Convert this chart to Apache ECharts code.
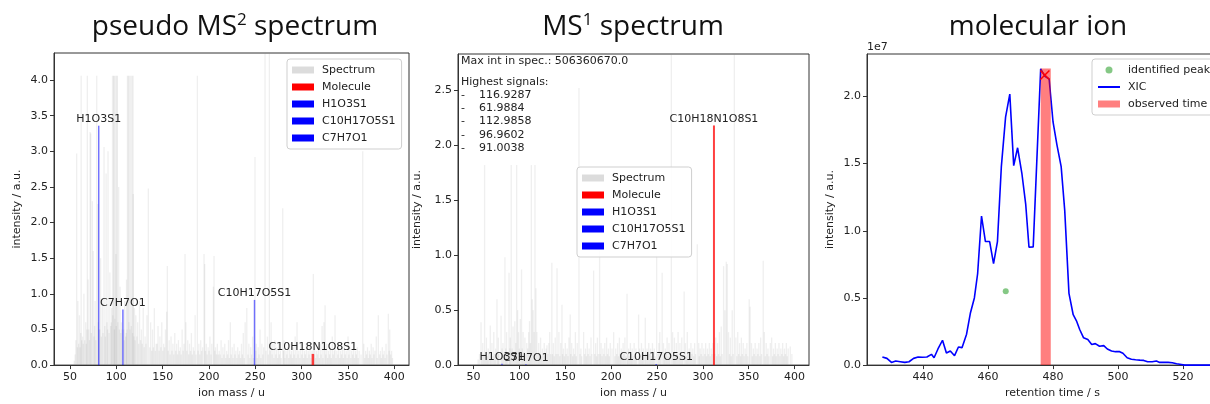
<!DOCTYPE html>
<html>
<head>
<meta charset="utf-8">
<script src="https://cdn.jsdelivr.net/npm/echarts@6/dist/echarts.min.js"></script>
<style>
html,body{margin:0;padding:0;background:#fff;overflow:hidden}
#wrap{width:1210px;height:404px;overflow:hidden;position:relative}
#c{width:1250px;height:404px}
</style>
</head>
<body>
<div id="wrap"><div id="c"></div></div>
<script>
// ---------------- data ----------------
const panelTitles = [['pseudo MS', '2', ' spectrum'], ['MS', '1', ' spectrum'], ['molecular ion', '', '']];
const massTicks = [50, 100, 150, 200, 250, 300, 350, 400];
const ms2IntTicks = [0, 0.5, 1.0, 1.5, 2.0, 2.5, 3.0, 3.5, 4.0];
const ms1IntTicks = [0, 0.5, 1.0, 1.5, 2.0, 2.5];
const rtTicks = [440, 460, 480, 500, 520];
const xicTicks = [0, 0.5, 1.0, 1.5, 2.0]; // in units of 1e7

// pseudo MS2 spectrum: [m/z, intensity]
const ms2Peaks = [[54.5,0.06],[55.5,0.15],[56.3,0.35],[57.2,2.97],[58.0,0.25],[58.5,0.9],[59.3,0.3],[60.2,0.7],[60.8,0.25],[61.5,0.45],[61.99,4.06],[62.6,0.35],[63.5,0.4],[64.2,0.3],[65.0,1.0],[65.8,0.35],[66.9,0.6],[67.5,0.3],[68.2,0.5],[68.7,4.06],[69.5,1.2],[70.2,0.5],[71.0,0.35],[71.6,3.27],[72.3,3.25],[73.0,0.45],[74.1,2.3],[75.0,1.6],[75.8,0.4],[76.5,0.55],[77.0,0.9],[77.8,0.35],[78.8,4.06],[79.96,2.26],[80.5,0.6],[81.5,0.5],[82.0,0.5],[83.0,1.5],[83.8,0.4],[84.9,0.9],[85.6,0.45],[86.7,3.06],[87.5,0.55],[88.2,0.4],[88.9,2.69],[89.8,0.6],[90.5,0.5],[91.0,3.0],[92.1,0.45],[93.0,1.3],[93.9,0.55],[94.6,0.6],[95.0,0.8],[95.9,4.06],[96.2,0.7],[96.96,4.06],[97.5,4.06],[97.9,0.5],[98.3,0.65],[98.9,4.06],[99.5,1.56],[99.9,0.55],[100.4,4.06],[100.9,4.06],[101.6,0.6],[102.5,2.5],[103.2,0.5],[104.0,1.1],[104.8,0.45],[105.5,0.6],[106.1,0.5],[107.9,0.5],[108.5,0.35],[109.0,0.9],[110.0,0.4],[110.6,0.45],[111.0,1.2],[111.6,0.5],[112.0,4.06],[112.99,4.06],[113.5,0.6],[114.0,4.06],[114.7,0.5],[115.5,4.06],[116.1,0.55],[116.93,4.06],[117.5,0.45],[118.0,4.06],[118.3,2.4],[119.0,0.4],[119.5,0.8],[120.2,0.35],[121.0,0.7],[122.1,0.4],[123.0,0.6],[124.0,0.3],[125.0,0.9],[126.1,0.35],[127.0,0.5],[128.0,0.3],[129.0,0.8],[130.1,0.25],[131.0,0.4],[132.0,0.3],[133.0,0.7],[134.5,2.48],[135.9,0.25],[137.0,0.6],[138.1,0.2],[139.0,0.5],[140.0,0.25],[141.0,0.8],[142.1,0.2],[143.0,0.3],[144.0,0.3],[145.0,0.55],[146.1,0.2],[147.0,0.4],[148.0,0.25],[149.0,0.6],[150.1,0.2],[151.0,0.3],[152.0,0.25],[153.0,0.5],[154.3,0.75],[155.0,1.39],[156.0,0.2],[157.0,0.35],[158.0,0.15],[159.0,0.4],[160.0,0.2],[161.0,0.3],[162.0,0.15],[163.0,0.45],[164.0,0.2],[165.0,0.3],[166.0,0.15],[167.0,0.35],[168.0,0.2],[169.0,0.25],[170.0,0.15],[171.0,0.5],[172.0,0.2],[173.0,0.3],[174.1,1.56],[175.0,0.6],[176.0,0.2],[177.0,0.35],[178.0,0.15],[179.0,0.3],[180.0,0.2],[181.0,0.45],[182.0,0.15],[183.0,0.25],[184.0,0.2],[185.0,0.7],[186.0,0.15],[187.4,4.06],[188.2,0.2],[189.0,0.3],[190.0,0.15],[191.0,0.35],[192.0,0.2],[193.0,0.25],[194.6,1.56],[195.3,1.42],[196.2,0.2],[197.0,0.3],[198.0,0.15],[199.0,0.25],[200.0,0.2],[201.0,0.4],[202.0,0.15],[203.0,0.3],[204.7,1.1],[205.4,1.53],[206.2,0.2],[207.0,0.25],[208.0,0.15],[209.0,0.3],[210.0,0.15],[211.0,0.2],[212.0,0.15],[213.0,0.35],[214.0,0.1],[215.0,0.25],[216.0,0.15],[217.0,0.3],[218.0,0.1],[219.0,0.2],[220.0,0.15],[221.0,0.35],[222.0,0.1],[223.0,0.6],[224.0,0.15],[225.0,0.25],[226.0,0.1],[227.0,0.3],[228.0,0.15],[229.0,0.2],[230.0,0.1],[231.0,0.25],[232.0,0.15],[233.0,0.2],[234.0,0.1],[235.0,0.3],[236.0,0.15],[237.0,0.45],[238.0,0.1],[239.0,0.6],[240.7,0.8],[242.0,0.15],[243.0,0.3],[244.0,0.1],[245.0,0.25],[246.0,0.15],[247.0,0.4],[248.0,0.1],[249.6,2.92],[250.5,0.2],[251.0,0.3],[252.0,0.1],[253.0,0.25],[254.0,0.15],[255.0,0.5],[256.0,0.1],[257.0,0.3],[258.0,0.15],[259.0,0.25],[260.4,5.0],[261.5,0.2],[263.0,0.4],[264.0,0.15],[265.1,5.0],[266.0,0.2],[267.0,0.6],[268.0,0.15],[269.0,0.3],[270.0,0.1],[271.0,0.35],[272.0,0.15],[273.0,0.25],[274.0,0.1],[275.0,0.3],[276.0,0.15],[277.0,0.2],[278.0,0.1],[279.5,2.2],[280.5,0.2],[281.0,0.35],[282.0,0.1],[283.0,0.2],[284.0,0.15],[285.0,0.25],[286.0,0.1],[287.0,0.3],[288.0,0.15],[289.0,0.2],[290.0,0.1],[291.0,0.25],[292.0,0.15],[293.0,0.4],[294.0,0.1],[295.0,0.6],[296.0,0.15],[297.0,0.2],[298.0,0.1],[299.0,0.3],[300.0,0.15],[301.0,0.25],[302.0,0.1],[303.0,0.2],[304.0,0.15],[305.0,0.3],[306.0,0.1],[307.0,0.2],[308.0,0.15],[309.0,0.25],[310.0,0.1],[311.0,0.2],[312.6,1.28],[313.5,0.15],[314.0,0.3],[315.0,0.1],[316.0,0.2],[317.0,0.15],[318.0,0.25],[319.0,0.1],[320.0,0.3],[321.0,0.15],[322.0,0.55],[323.0,0.1],[324.0,0.6],[325.2,0.84],[326.0,0.15],[327.0,0.3],[328.0,0.1],[329.0,0.2],[330.0,0.15],[331.0,0.25],[332.0,0.1],[333.0,0.4],[334.0,0.15],[335.0,0.2],[336.0,0.7],[337.0,0.1],[338.0,0.2],[339.0,0.15],[340.0,0.3],[341.0,0.1],[342.0,0.2],[343.0,0.15],[344.0,0.25],[345.0,0.1],[346.0,0.3],[347.0,0.15],[348.0,0.2],[349.0,0.1],[350.0,0.4],[351.0,0.15],[352.0,0.25],[353.0,0.1],[354.0,0.2],[355.0,0.15],[356.0,0.3],[357.0,0.1],[358.0,0.2],[359.0,0.15],[360.0,0.25],[361.0,0.1],[362.0,0.2],[364.0,0.15],[365.9,3.0],[367.0,0.3],[368.0,0.1],[369.0,0.2],[370.0,0.15],[371.0,0.25],[372.0,0.1],[373.0,0.2],[374.0,0.15],[375.0,0.3],[376.0,0.1],[377.0,0.25],[378.0,0.15],[379.0,0.2],[380.5,0.4],[381.5,0.1],[382.7,0.7],[384.0,0.15],[385.0,0.2],[386.0,0.1],[387.0,0.25],[388.0,0.15],[389.0,0.2],[390.0,0.1],[391.0,0.3],[392.0,0.15],[393.5,0.72],[394.5,0.2],[395.0,0.5],[396.0,0.15],[397.0,0.2],[398.0,0.1]];

// MS1 spectrum: [m/z, intensity]
const ms1Peaks = [[55.0,0.05],[56.5,0.1],[58.1,0.39],[59.0,0.08],[60.0,0.2],[61.0,0.1],[61.99,1.82],[63.0,0.12],[64.0,0.25],[65.0,0.08],[66.0,0.15],[67.0,0.1],[68.2,0.36],[69.0,0.1],[70.0,0.2],[71.0,0.08],[72.0,0.3],[73.0,0.1],[74.0,0.15],[75.5,0.6],[76.5,0.1],[77.0,0.25],[78.0,0.12],[79.96,0.45],[81.0,0.15],[82.0,0.2],[83.0,0.1],[84.2,0.98],[85.0,0.15],[86.0,0.3],[87.0,0.12],[88.6,0.84],[89.5,0.15],[90.0,0.25],[91.0,1.82],[92.0,0.15],[93.0,0.35],[94.0,0.12],[95.0,0.4],[96.0,0.2],[96.96,1.82],[98.0,0.5],[99.0,0.3],[100.0,0.15],[100.9,0.42],[102.3,0.87],[103.0,0.15],[104.0,0.3],[105.0,0.12],[106.0,0.25],[107.0,0.1],[108.0,0.2],[109.0,0.15],[110.0,0.3],[111.0,0.4],[112.0,0.2],[112.99,1.82],[114.0,0.6],[115.0,0.5],[116.0,0.3],[116.93,1.82],[118.0,0.7],[119.0,0.3],[120.0,0.1],[121.0,0.2],[122.0,0.1],[123.0,0.25],[124.0,0.08],[125.0,0.15],[126.0,0.1],[127.0,0.2],[128.0,0.08],[129.0,0.15],[130.0,0.18],[131.0,0.1],[132.0,0.2],[133.0,0.3],[134.0,0.1],[135.3,0.93],[136.0,0.1],[137.0,0.2],[138.0,0.08],[139.0,0.25],[140.0,0.1],[141.0,0.88],[142.0,0.1],[143.0,0.3],[144.0,0.08],[145.0,0.2],[146.4,0.55],[147.0,0.1],[148.0,0.15],[149.0,0.08],[150.0,0.2],[151.0,0.1],[152.0,0.15],[153.0,0.08],[154.0,0.25],[155.4,0.46],[156.0,0.1],[157.0,0.2],[158.0,0.08],[159.0,0.15],[160.0,0.1],[161.0,0.3],[162.0,0.08],[163.0,0.2],[164.9,2.52],[166.0,0.1],[167.0,0.15],[168.0,0.08],[170.0,0.3],[171.0,0.1],[172.0,0.15],[173.0,0.08],[174.0,0.2],[175.0,0.1],[176.0,0.15],[177.0,0.08],[178.0,0.25],[179.0,0.1],[180.9,0.86],[182.0,0.1],[183.0,0.2],[184.0,0.08],[185.0,0.25],[186.0,0.1],[187.4,1.04],[188.0,0.1],[189.0,0.2],[190.0,0.08],[191.0,0.15],[192.0,0.1],[193.0,0.2],[194.0,0.08],[195.0,0.25],[196.0,0.1],[197.0,0.15],[198.0,0.08],[199.0,0.2],[200.9,0.15],[202.7,0.3],[204.0,0.08],[205.0,0.15],[206.0,0.1],[207.0,0.2],[208.0,0.08],[209.0,0.25],[210.0,0.1],[211.0,0.15],[212.0,0.08],[213.0,0.2],[214.0,0.1],[215.0,0.25],[216.0,0.08],[217.3,0.65],[218.0,0.1],[219.0,0.15],[220.0,0.08],[221.0,0.2],[222.0,0.1],[223.0,0.15],[224.0,0.08],[225.0,0.2],[226.0,0.1],[227.0,0.15],[228.0,0.08],[229.9,0.46],[231.0,0.15],[232.0,0.08],[233.0,0.2],[234.0,0.1],[235.0,0.15],[236.0,0.08],[237.2,0.43],[238.0,0.1],[239.0,0.15],[240.0,0.08],[241.0,0.2],[242.0,0.1],[243.0,0.15],[244.0,0.08],[245.0,0.2],[246.0,0.1],[247.0,0.15],[248.0,0.08],[249.6,1.0],[251.0,0.1],[252.0,0.2],[253.0,0.3],[254.0,0.1],[255.6,0.84],[257.0,0.2],[258.0,0.08],[259.0,0.15],[260.0,0.1],[261.0,0.25],[262.0,0.08],[263.0,0.2],[264.0,0.1],[265.6,3.5],[267.0,0.3],[268.0,0.1],[269.0,0.25],[270.0,0.08],[271.0,0.2],[272.0,0.1],[273.0,0.3],[274.0,0.08],[275.0,0.2],[276.0,0.1],[277.0,0.25],[278.0,0.08],[279.6,0.67],[281.0,0.2],[282.0,0.08],[283.0,0.3],[284.0,0.1],[285.0,0.15],[286.0,0.08],[287.0,0.2],[288.0,0.1],[289.0,0.15],[290.0,0.08],[291.0,0.2],[292.0,0.1],[293.9,1.1],[295.5,0.2],[296.0,0.08],[297.0,0.15],[298.0,0.1],[299.0,0.2],[300.0,0.08],[301.0,0.15],[302.0,0.1],[303.0,0.2],[304.0,0.08],[305.0,0.15],[306.0,0.1],[307.0,0.2],[308.0,0.08],[309.0,0.15],[310.0,0.1],[311.0,0.2],[313.0,0.1],[314.0,0.25],[315.0,0.08],[316.0,0.2],[317.0,0.1],[318.0,0.3],[319.0,0.08],[320.0,0.35],[321.0,0.1],[322.6,0.9],[324.0,0.5],[325.5,0.94],[326.6,0.92],[328.0,0.3],[329.0,0.1],[330.0,0.25],[331.0,0.08],[332.0,0.5],[333.0,0.1],[334.3,3.5],[336.0,0.25],[337.0,0.08],[338.0,0.3],[339.0,0.1],[340.0,0.2],[341.0,0.08],[342.0,0.25],[343.0,0.1],[344.0,0.2],[345.0,0.08],[346.0,0.15],[347.0,0.1],[348.0,0.2],[349.0,0.08],[350.5,0.6],[351.5,0.53],[353.0,0.2],[354.0,0.08],[355.0,0.15],[356.0,0.1],[357.0,0.2],[358.0,0.08],[359.0,0.15],[360.0,0.1],[361.0,0.2],[362.0,0.08],[363.0,0.25],[364.0,0.1],[365.8,0.95],[367.0,0.3],[368.0,0.08],[369.0,0.2],[370.0,0.1],[371.0,0.15],[372.0,0.08],[373.5,0.2],[375.0,0.25],[376.0,0.08],[377.0,0.15],[378.0,0.1],[379.0,0.2],[380.0,0.08],[381.0,0.15],[382.0,0.1],[383.0,0.2],[384.0,0.08],[385.0,0.15],[386.0,0.1],[387.0,0.2],[388.0,0.08],[389.0,0.15],[390.0,0.1],[391.0,0.2],[392.0,0.08],[393.0,0.15],[395.3,0.17],[397.0,0.1]];

// annotated fragments
const fragmentNames = ['Molecule', 'H1O3S1', 'C10H17O5S1', 'C7H7O1'];
const fragmentLabels = ['C10H18N1O8S1', 'H1O3S1', 'C10H17O5S1', 'C7H7O1'];
const fragmentMz = [312.07, 80.96, 249.08, 107.05];
const ms2FragmentInt = [0.157, 3.36, 0.915, 0.78];
const ms1FragmentInt = [2.18, 0.012, 0.01, 0.008];

const maxIntText = 'Max int in spec.: 506360670.0';
const highestSignals = ['116.9287', '61.9884', '112.9858', '96.9602', '91.0038'];

// XIC: [retention time / s, intensity / 1e7]
const xicPoints = [[427.5,0.061],[428.9,0.050],[430.3,0.020],[431.6,0.030],[433.0,0.025],[434.4,0.020],[435.7,0.025],[437.1,0.050],[438.5,0.060],[439.8,0.058],[441.2,0.060],[442.6,0.080],[443.4,0.055],[444.6,0.120],[446.0,0.185],[447.2,0.090],[448.4,0.105],[449.7,0.070],[450.9,0.135],[452.0,0.130],[453.4,0.230],[454.6,0.390],[455.8,0.500],[456.8,0.680],[458.0,1.110],[459.2,0.920],[460.5,0.920],[461.7,0.755],[462.9,0.920],[464.1,1.478],[465.4,1.846],[466.7,2.017],[467.9,1.485],[469.1,1.618],[470.4,1.430],[471.6,1.196],[472.6,0.877],[473.9,0.880],[476.2,2.206],[477.5,2.150],[478.8,2.130],[480.0,1.810],[481.2,1.640],[482.5,1.478],[483.6,1.150],[484.9,0.534],[486.2,0.375],[487.2,0.330],[488.2,0.265],[489.4,0.203],[490.7,0.190],[491.9,0.154],[493.0,0.160],[494.3,0.140],[495.6,0.145],[496.7,0.120],[498.0,0.105],[499.2,0.100],[500.5,0.100],[501.5,0.088],[502.8,0.055],[504.1,0.044],[505.4,0.040],[506.7,0.037],[507.9,0.035],[509.1,0.025],[510.5,0.025],[511.8,0.030],[512.8,0.020],[514.1,0.020],[515.4,0.020],[516.7,0.018],[518.0,0.010],[519.5,0.005],[520.5,0.0],[522.0,0.0],[524.0,0.0],[526.0,0.0],[528.0,0.0],[530.0,0.0],[532.0,0.0]];
const identifiedPeak = [[465.45, 0.549]];
const apexMarker = [[477.5, 2.16]];
const observedTime = [[476.2, 479.3, 2.208]]; // [start, end, height/1e7]

// ---------------- drawing ----------------
const FONT = '"DejaVu Sans", sans-serif';
const TXT = '#222';
const AX = '#333';

function stickItem(color, width) {
  return function (params, api) {
    const x = api.value(0), y = api.value(1);
    const b = api.coord([x, 0]), t = api.coord([x, y]);
    const top = Math.max(t[1], params.coordSys.y);
    return { type: 'line', silent: true,
      shape: { x1: b[0], y1: b[1], x2: t[0], y2: top },
      style: { stroke: color, lineWidth: width } };
  };
}
function fragmentItem(color, width, label) {
  return function (params, api) {
    const x = api.value(0), y = api.value(1);
    const b = api.coord([x, 0]), t = api.coord([x, y]);
    return { type: 'group', children: [
      { type: 'line', shape: { x1: b[0], y1: b[1], x2: t[0], y2: t[1] },
        style: { stroke: color, lineWidth: width } },
      { type: 'text', x: t[0], y: t[1] - 1, z2: 10,
        style: { text: label, fill: TXT, font: '11px ' + FONT, align: 'center', verticalAlign: 'bottom' } }
    ] };
  };
}

function xAx(gi, min, max, ticks, name) {
  return { type: 'value', gridIndex: gi, min: min, max: max,
    name: name, nameLocation: 'middle', nameGap: 22,
    nameTextStyle: { fontFamily: FONT, fontSize: 11, color: TXT },
    axisLine: { show: true, onZero: false, lineStyle: { color: AX, width: 1 } },
    axisTick: { show: true, length: 4, customValues: ticks, lineStyle: { color: AX } },
    axisLabel: { customValues: ticks, fontFamily: FONT, fontSize: 11, color: TXT, margin: 7 },
    splitLine: { show: false } };
}
function yAx(gi, min, max, ticks, name, gap) {
  return { type: 'value', gridIndex: gi, min: min, max: max,
    name: name, nameLocation: 'middle', nameGap: gap,
    nameTextStyle: { fontFamily: FONT, fontSize: 11, color: TXT },
    axisLine: { show: true, onZero: false, lineStyle: { color: AX, width: 1 } },
    axisTick: { show: true, length: 4, customValues: ticks, lineStyle: { color: AX } },
    axisLabel: { customValues: ticks, fontFamily: FONT, fontSize: 11, color: TXT, margin: 6,
      formatter: v => v.toFixed(1) },
    splitLine: { show: false } };
}

const legendBase = {
  orient: 'vertical', itemWidth: 22, itemHeight: 7, itemGap: 3,
  padding: [4, 6, 4, 5], backgroundColor: 'rgba(255,255,255,0.85)',
  borderColor: '#cfcfcf', borderWidth: 1, borderRadius: 3, selectedMode: false,
  textStyle: { fontFamily: FONT, fontSize: 11, color: TXT, lineHeight: 14, padding: [0, 0, 0, 3] }
};

const series = [];
function spectrumPanel(gi, peaks, fragInt, molWidth) {
  series.push({ name: 'Spectrum', type: 'custom', xAxisIndex: gi, yAxisIndex: gi,
    itemStyle: { color: '#dcdcdc' }, renderItem: stickItem('rgba(140,140,140,0.14)', 1.3),
    encode: { x: 0, y: 1 }, data: peaks, z: 1 });
  fragmentNames.forEach((n, i) => {
    const isMol = i === 0;
    series.push({ name: n, type: 'custom', xAxisIndex: gi, yAxisIndex: gi,
      itemStyle: { color: isMol ? '#ff0000' : '#0000ff' },
      renderItem: fragmentItem(isMol ? 'rgba(255,0,0,0.75)' : 'rgba(0,0,255,0.55)', isMol ? molWidth : 1.5, fragmentLabels[i]),
      encode: { x: 0, y: 1 }, data: [[fragmentMz[i], fragInt[i]]], z: 3 });
  });
}
spectrumPanel(0, ms2Peaks, ms2FragmentInt, 2.5);
spectrumPanel(1, ms1Peaks, ms1FragmentInt, 2);

series.push({ name: 'identified peak', type: 'scatter', xAxisIndex: 2, yAxisIndex: 2,
  symbol: 'circle', symbolSize: 6, itemStyle: { color: 'rgba(0,140,0,0.6)' }, data: identifiedPeak, z: 4 });
series.push({ name: 'XIC', type: 'line', xAxisIndex: 2, yAxisIndex: 2, symbol: 'none', showSymbol: false,
  lineStyle: { color: '#0000ff', width: 1.6 }, itemStyle: { color: '#0000ff' }, data: xicPoints, z: 2 });
series.push({ name: 'observed time', type: 'custom', xAxisIndex: 2, yAxisIndex: 2,
  itemStyle: { color: 'rgba(255,0,0,0.5)' },
  renderItem: function (params, api) {
    const p0 = api.coord([api.value(0), 0]);
    const p1 = api.coord([api.value(1), api.value(2)]);
    return { type: 'rect', shape: { x: p0[0], y: p1[1], width: p1[0] - p0[0], height: p0[1] - p1[1] },
      style: { fill: 'rgba(255,0,0,0.5)' } };
  }, encode: { x: [0, 1], y: 2 }, data: observedTime, z: 3 });
series.push({ name: 'apex', type: 'custom', xAxisIndex: 2, yAxisIndex: 2,
  renderItem: function (params, api) {
    const c = api.coord([api.value(0), api.value(1)]);
    const s = 4.5;
    return { type: 'group', children: [
      { type: 'line', shape: { x1: c[0] - s, y1: c[1] - s, x2: c[0] + s, y2: c[1] + s }, style: { stroke: '#ff0000', lineWidth: 1.5 } },
      { type: 'line', shape: { x1: c[0] - s, y1: c[1] + s, x2: c[0] + s, y2: c[1] - s }, style: { stroke: '#ff0000', lineWidth: 1.5 } }
    ] };
  }, encode: { x: 0, y: 1 }, data: apexMarker, z: 5 });

const TITLE_FONT = '"Open Sans", sans-serif';
function titleText(cx, parts) {
  return { type: 'text', x: cx, y: 27, style: {
    text: parts[0] + (parts[1] ? '{sup|' + parts[1] + '}' : '') + parts[2],
    fontFamily: TITLE_FONT, fontSize: 28, fill: '#111', align: 'center', verticalAlign: 'middle',
    lineHeight: 31,
    rich: { sup: { fontFamily: TITLE_FONT, fontSize: 17, fill: '#111', verticalAlign: 'top', lineHeight: 21 } }
  } };
}

const option = {
  animation: false,
  backgroundColor: '#fff',
  grid: [
    { left: 54, top: 53, width: 355, height: 316, show: true, borderColor: AX, borderWidth: 1 },
    { left: 458, top: 54, width: 351, height: 315, show: true, borderColor: AX, borderWidth: 1 },
    { left: 867, top: 54, width: 371, height: 315, show: true, borderColor: AX, borderWidth: 1 }
  ],
  xAxis: [
    xAx(0, 32.7, 415.8, massTicks, 'ion mass / u'),
    xAx(1, 33.0, 415.7, massTicks, 'ion mass / u'),
    xAx(2, 422.77, 536.9, rtTicks, 'retention time / s')
  ],
  yAxis: [
    yAx(0, 0, 4.38, ms2IntTicks, 'intensity / a.u.', 31),
    yAx(1, 0, 2.83, ms1IntTicks, 'intensity / a.u.', 35),
    yAx(2, 0, 2.316, xicTicks, 'intensity / a.u.', 31)
  ],
  legend: [
    Object.assign({}, legendBase, { left: 287, top: 59, icon: 'rect', data: ['Spectrum', ...fragmentNames] }),
    Object.assign({}, legendBase, { left: 577, top: 167, icon: 'rect', data: ['Spectrum', ...fragmentNames] }),
    Object.assign({}, legendBase, { left: 1092, top: 59, data: [
      { name: 'identified peak', icon: 'circle' },
      { name: 'XIC', itemStyle: { opacity: 0, color: 'rgba(0,0,0,0)', borderWidth: 0 }, lineStyle: { color: '#0000ff', width: 2 } },
      { name: 'observed time', icon: 'rect' }] })
  ],
  graphic: [
    titleText(235, panelTitles[0]),
    titleText(633, panelTitles[1]),
    titleText(1038, panelTitles[2]),
    { type: 'text', x: 461, y: 56, z: 10, style: { text: maxIntText, font: '11px ' + FONT, fill: TXT, align: 'left', verticalAlign: 'top' } },
    { type: 'text', x: 461, y: 75, z: 10, style: { text: 'Highest signals:\n' + highestSignals.map(s => '-    ' + s).join('\n'),
      font: '11px ' + FONT, fill: TXT, lineHeight: 13.3, align: 'left', verticalAlign: 'top' } },
    { type: 'text', x: 867, y: 47, style: { text: '1e7', font: '11px ' + FONT, fill: TXT, align: 'left', verticalAlign: 'middle' } }
  ],
  series: series
};

const chart = echarts.init(document.getElementById('c'), null, { renderer: 'canvas' });
chart.setOption(option);
</script>
</body>
</html>
